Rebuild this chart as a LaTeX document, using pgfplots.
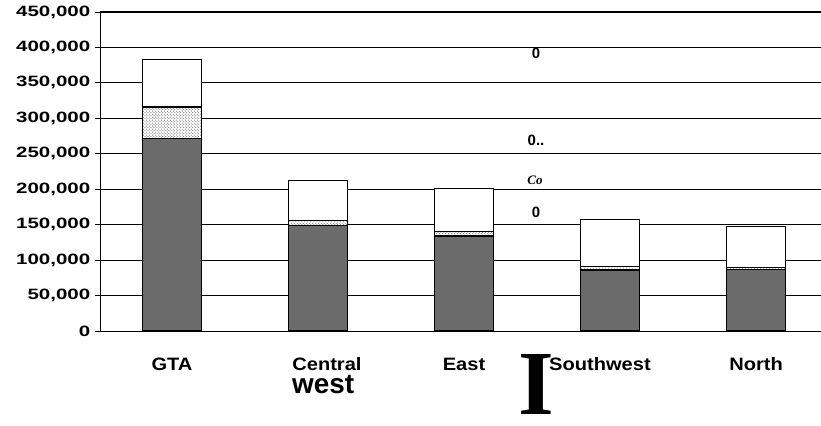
\documentclass[border=0pt]{standalone}
\usepackage{fontspec}
\setmainfont{Liberation Sans}
\newfontfamily\timesf{Liberation Serif}
\usepackage{pgfplots}
\pgfplotsset{compat=1.18}
\usetikzlibrary{patterns}
\definecolor{darkbar}{gray}{0.42}
\begin{document}
\begin{tikzpicture}[x=1bp,y=1bp]
\path[use as bounding box] (0,0) rectangle (821,425);
\begin{axis}[
  at={(100bp,94bp)}, anchor=south west,
  scale only axis, width=721bp, height=319bp,
  xmin=-0.493, xmax=4.445, ymin=0, ymax=450000,
  axis lines*=left,
  ybar stacked, bar width=0.4,
  xtick={0,1,2,3,4},
  xticklabels={GTA,\hspace*{16bp}Central,East,Southwest\hspace*{18bp},North},
  ytick={0,50000,100000,150000,200000,250000,300000,350000,400000,450000},
  yticklabels={0,{50,000},{100,000},{150,000},{200,000},{250,000},{300,000},{350,000},{400,000},{450,000}},
  scaled y ticks=false,
  yticklabel style={font=\fontsize{15}{15}\selectfont\bfseries, xscale=1.37},
  xticklabel style={font=\fontsize{18}{18}\selectfont\bfseries, xscale=1.12, inner sep=0pt, text height=13bp, text depth=0bp, yshift=-21.3bp},
  ymajorgrids, grid style={black, line width=0.8bp},
  axis line style={black, line width=0.9bp},
  major tick length=5bp, tick align=outside,
  xtick style={draw=none}, ytick style={black, line width=0.8bp},
]
\addplot[fill=darkbar, draw=black, line width=1.1bp] coordinates {(0,272000) (1,149000) (2,134000) (3,86000) (4,87000)};
\addplot[fill=white, postaction={pattern=crosshatch dots, pattern color=black!70}, draw=black, line width=1.1bp] coordinates {(0,44000) (1,7500) (2,6000) (3,5500) (4,2000)};
\addplot[fill=white, draw=black, line width=1.1bp] coordinates {(0,67000) (1,55500) (2,61000) (3,66000) (4,59000)};
\end{axis}
\draw[black, line width=1.6bp] (100,413) -- (821,413);
\node[font=\fontsize{15}{15}\selectfont\bfseries] at (536,372) {0};
\node[font=\fontsize{15}{15}\selectfont\bfseries] at (536,285) {0..};
\node[font=\timesf\bfseries\itshape\fontsize{13}{13}\selectfont] at (535,245) {Co};
\node[font=\fontsize{15}{15}\selectfont\bfseries] at (536,213) {0};
\node[font=\timesf\bfseries\fontsize{92}{92}\selectfont, inner sep=0pt] at (536,41) {I};
\node[font=\fontsize{28}{28}\selectfont\bfseries, anchor=base west, inner sep=0pt] at (292,32) {west};
\end{tikzpicture}
\end{document}
